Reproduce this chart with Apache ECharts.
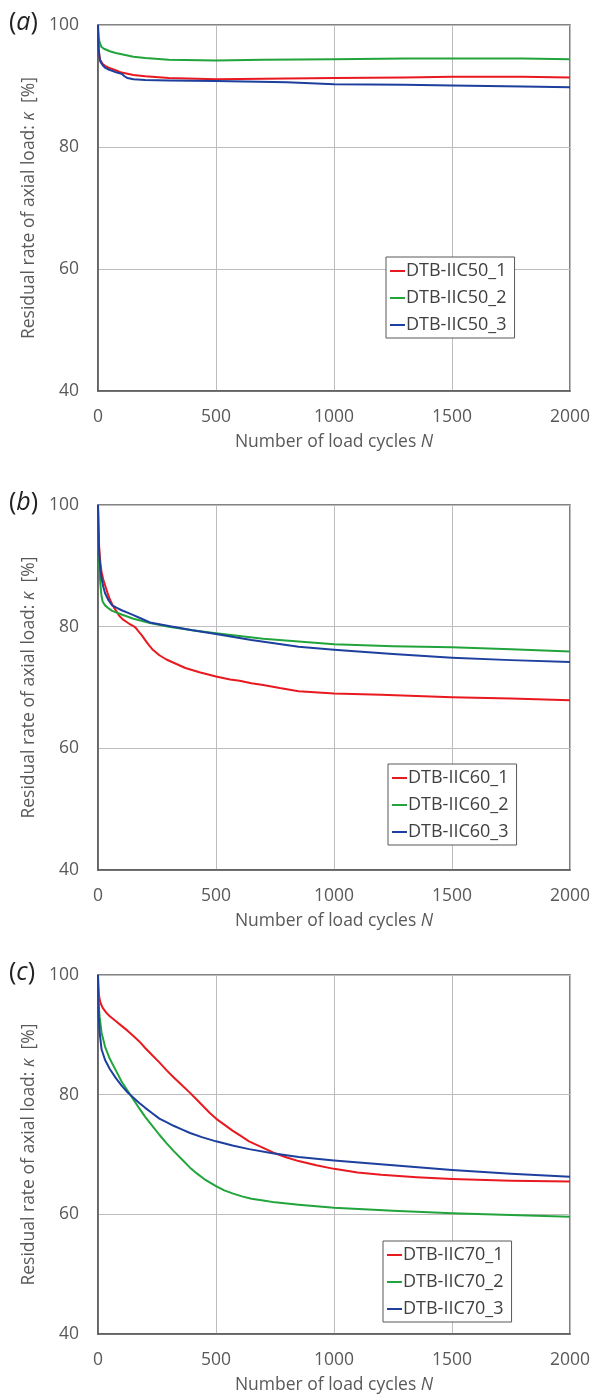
<!DOCTYPE html>
<html>
<head>
<meta charset="utf-8">
<script src="https://cdn.jsdelivr.net/npm/echarts@6/dist/echarts.min.js"></script>
<style>
  html, body { margin: 0; padding: 0; background: #fff; }
  #chart { width: 593px; height: 1395px; }
</style>
</head>
<body>
<div id="chart"></div>
<script>
// Residual rate of axial load vs. number of load cycles, three specimen groups.
const xTicks = [0, 500, 1000, 1500, 2000];
const yTicks = [40, 60, 80, 100];

// (a) DTB-IIC50
const namesA = ['DTB-IIC50_1', 'DTB-IIC50_2', 'DTB-IIC50_3'];
const cyclesA1 = [0, 1, 3, 6, 10, 20, 30, 45, 60, 80, 100, 125, 150, 200, 300, 500, 700, 1000, 1300, 1500, 1800, 2000];
const kappaA1 = [100, 98, 96, 94.9, 94.2, 93.6, 93.3, 93.0, 92.8, 92.5, 92.2, 92.0, 91.8, 91.6, 91.3, 91.1, 91.2, 91.3, 91.4, 91.5, 91.5, 91.4];
const cyclesA2 = [0, 1, 3, 5, 10, 15, 25, 50, 75, 100, 150, 200, 300, 500, 700, 1000, 1300, 1500, 1800, 2000];
const kappaA2 = [100, 99, 98, 97.5, 96.8, 96.4, 96.1, 95.7, 95.4, 95.2, 94.8, 94.6, 94.3, 94.2, 94.3, 94.4, 94.5, 94.5, 94.5, 94.4];
const cyclesA3 = [0, 1, 3, 6, 10, 20, 30, 45, 60, 80, 100, 112, 125, 150, 200, 300, 500, 800, 1000, 1300, 1500, 1800, 2000];
const kappaA3 = [100, 98, 96, 94.8, 94, 93.4, 93, 92.7, 92.5, 92.2, 92, 91.6, 91.3, 91.1, 91.0, 90.9, 90.8, 90.6, 90.3, 90.2, 90.1, 89.9, 89.8];

// (b) DTB-IIC60
const namesB = ['DTB-IIC60_1', 'DTB-IIC60_2', 'DTB-IIC60_3'];
const cyclesB1 = [0, 2, 5, 10, 15, 22, 30, 40, 50, 60, 70, 80, 90, 105, 120, 135, 150, 160, 170, 185, 200, 215, 230, 260, 290, 330, 370, 430, 500, 560, 600, 650, 700, 770, 850, 1000, 1200, 1500, 1750, 2000];
const kappaB1 = [100, 96, 93, 90.5, 89, 87.8, 86.8, 85.6, 84.5, 83.7, 83, 82.4, 81.8, 81.2, 80.8, 80.4, 80.1, 79.8, 79.3, 78.6, 77.8, 77.0, 76.3, 75.3, 74.6, 73.9, 73.2, 72.5, 71.8, 71.3, 71.1, 70.7, 70.4, 69.9, 69.4, 69.0, 68.8, 68.4, 68.2, 67.9];
const cyclesB2 = [0, 1, 3, 5, 7, 10, 15, 20, 30, 45, 60, 100, 150, 220, 300, 400, 500, 700, 1000, 1250, 1500, 1750, 2000];
const kappaB2 = [100, 97, 93, 90.8, 89, 87, 85, 84.1, 83.5, 83.0, 82.6, 82, 81.3, 80.6, 80, 79.4, 78.9, 78, 77.1, 76.8, 76.6, 76.3, 75.9];
const cyclesB3 = [0, 2, 5, 10, 15, 22, 30, 45, 60, 80, 100, 125, 150, 185, 220, 300, 400, 500, 650, 850, 1000, 1250, 1500, 1750, 2000];
const kappaB3 = [100, 96, 92, 89.5, 88, 86.6, 85.5, 84.3, 83.5, 83.1, 82.7, 82.3, 81.9, 81.3, 80.7, 80.1, 79.4, 78.8, 77.8, 76.7, 76.2, 75.5, 74.9, 74.5, 74.2];

// (c) DTB-IIC70
const namesC = ['DTB-IIC70_1', 'DTB-IIC70_2', 'DTB-IIC70_3'];
const cyclesC1 = [0, 1, 3, 7, 12, 20, 35, 50, 75, 100, 125, 150, 175, 200, 230, 260, 290, 320, 355, 390, 420, 450, 475, 500, 535, 570, 605, 640, 700, 750, 800, 850, 925, 1000, 1100, 1200, 1350, 1500, 1750, 2000];
const kappaC1 = [100, 98.5, 97, 95.9, 95.2, 94.5, 93.7, 93.1, 92.3, 91.5, 90.7, 89.8, 88.9, 87.8, 86.6, 85.4, 84.1, 82.9, 81.6, 80.3, 79.1, 77.9, 76.9, 76.0, 75.0, 74.0, 73.1, 72.2, 71.1, 70.2, 69.5, 68.9, 68.2, 67.6, 67.0, 66.6, 66.2, 65.9, 65.6, 65.5];
const cyclesC2 = [0, 1, 3, 7, 15, 30, 50, 75, 100, 125, 150, 175, 200, 230, 260, 290, 320, 355, 390, 420, 450, 475, 500, 535, 570, 610, 650, 700, 750, 850, 1000, 1250, 1500, 1750, 2000];
const kappaC2 = [100, 98, 95, 93, 90.4, 88, 86, 84.1, 82.2, 80.7, 79.2, 77.7, 76.3, 74.8, 73.3, 71.9, 70.6, 69.2, 67.8, 66.8, 65.9, 65.3, 64.7, 64.0, 63.5, 63.0, 62.6, 62.3, 62.0, 61.6, 61.1, 60.6, 60.2, 59.9, 59.6];
const cyclesC3 = [0, 1, 3, 7, 15, 30, 50, 75, 100, 125, 150, 175, 200, 230, 260, 290, 320, 355, 390, 440, 500, 570, 640, 740, 850, 1000, 1250, 1500, 1750, 2000];
const kappaC3 = [100, 96.5, 93, 90.4, 87.6, 85.8, 84.3, 82.8, 81.5, 80.4, 79.5, 78.6, 77.8, 76.9, 76.0, 75.4, 74.8, 74.2, 73.6, 72.9, 72.2, 71.5, 70.9, 70.2, 69.6, 69.0, 68.2, 67.4, 66.8, 66.3];

const colors = ['#e8191f', '#22a43c', '#1d3f9e'];
const FONT = '"Open Sans", "Noto Sans", sans-serif';
const TEXT = '#595959';
const AXIS = '#595959';

const pairs = (xs, ys) => xs.map((x, i) => [x, ys[i]]);

const panels = [
  { top: 25, height: 366, names: namesA, data: [pairs(cyclesA1, kappaA1), pairs(cyclesA2, kappaA2), pairs(cyclesA3, kappaA3)], legend: { left: 386, top: 257 }, tag: 'a' },
  { top: 505, height: 365, names: namesB, data: [pairs(cyclesB1, kappaB1), pairs(cyclesB2, kappaB2), pairs(cyclesB3, kappaB3)], legend: { left: 388, top: 764 }, tag: 'b' },
  { top: 975, height: 363, names: namesC, data: [pairs(cyclesC1, kappaC1), pairs(cyclesC2, kappaC2), pairs(cyclesC3, kappaC3)], legend: { left: 383, top: 1241 }, tag: 'c' }
];

const grid = [], xAxis = [], yAxis = [], series = [], legend = [], graphic = [];

panels.forEach((p, gi) => {
  grid.push({
    left: 98, right: 22, top: p.top, height: p.height,
    show: true, borderColor: AXIS, borderWidth: 1.5, backgroundColor: 'transparent'
  });
  xAxis.push({
    type: 'value', gridIndex: gi,
    min: xTicks[0], max: xTicks[xTicks.length - 1], interval: xTicks[1] - xTicks[0],
    name: '{t|Number of load cycles }{i|N}',
    nameLocation: 'middle', nameGap: 42,
    nameTextStyle: {
      rich: {
        t: { fontFamily: FONT, fontSize: 17.5, color: TEXT },
        i: { fontFamily: FONT, fontSize: 17.5, color: TEXT, fontStyle: 'italic' }
      }
    },
    axisLine: { show: true, lineStyle: { color: AXIS, width: 1.5 } },
    axisTick: { show: false },
    axisLabel: { fontFamily: FONT, fontSize: 17.5, color: TEXT, margin: 17, formatter: v => String(v) },
    splitLine: { show: true, lineStyle: { color: '#bdbdbd', width: 1 } }
  });
  yAxis.push({
    type: 'value', gridIndex: gi,
    min: yTicks[0], max: yTicks[yTicks.length - 1], interval: yTicks[1] - yTicks[0],
    name: '{t|Residual rate of axial load: }{i|κ}{t|  [%]}',
    nameLocation: 'middle', nameRotate: 90, nameGap: 47,
    nameTextStyle: {
      rich: {
        t: { fontFamily: FONT, fontSize: 17.5, color: TEXT },
        i: { fontFamily: FONT, fontSize: 17.5, color: TEXT, fontStyle: 'italic' }
      }
    },
    axisLine: { show: true, lineStyle: { color: AXIS, width: 1.5 } },
    axisTick: { show: false },
    axisLabel: { fontFamily: FONT, fontSize: 17.5, color: TEXT, margin: 19, formatter: v => String(v) },
    splitLine: { show: true, lineStyle: { color: '#bdbdbd', width: 1 } }
  });
  p.names.forEach((name, si) => {
    series.push({
      type: 'line', name: name, xAxisIndex: gi, yAxisIndex: gi,
      data: p.data[si], showSymbol: false, symbol: 'none',
      smooth: false,
      lineStyle: { color: colors[si], width: 2, join: 'round' },
      itemStyle: { color: colors[si] },
      animation: false
    });
  });
  legend.push({
    data: p.names, orient: 'vertical',
    left: p.legend.left, top: p.legend.top,
    padding: [4, 8, 3, 4], itemGap: 7,
    itemWidth: 15, itemHeight: 2, icon: 'rect',
    borderColor: AXIS, borderWidth: 1, backgroundColor: '#fff',
    textStyle: { fontFamily: FONT, fontSize: 18, color: '#404040', lineHeight: 20, padding: [0, 0, 0, -4] },
    selectedMode: false
  });
  graphic.push({
    type: 'text', left: 9, top: p.top - 15,
    style: {
      text: '{p|(}{i|' + p.tag + '}{p|)}',
      rich: {
        p: { fontFamily: FONT, fontSize: 25, fill: '#222' },
        i: { fontFamily: FONT, fontSize: 25, fill: '#222', fontStyle: 'italic' }
      }
    }
  });
});

const chart = echarts.init(document.getElementById('chart'), null, { renderer: 'canvas' });
chart.setOption({
  animation: false,
  backgroundColor: '#fff',
  grid, xAxis, yAxis, series, legend, graphic
});
</script>
</body>
</html>
